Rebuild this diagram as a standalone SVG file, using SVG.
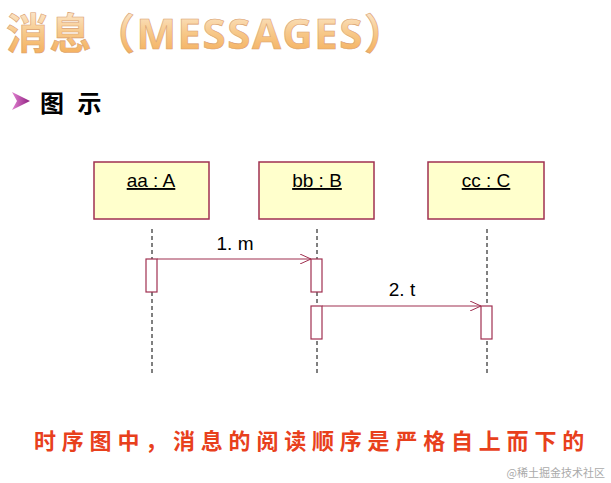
<svg xmlns="http://www.w3.org/2000/svg" width="611" height="483" viewBox="0 0 611 483">
<defs>
<linearGradient id="tg" x1="0" y1="0" x2="0" y2="1"><stop offset="0" stop-color="#fdf0e0"/><stop offset="0.5" stop-color="#f7c98a"/><stop offset="1" stop-color="#f4a850"/></linearGradient>
<linearGradient id="bg" x1="0" y1="0" x2="1" y2="0"><stop offset="0" stop-color="#e080d0"/><stop offset="1" stop-color="#902080"/></linearGradient>
<marker id="ah" markerWidth="12" markerHeight="10" refX="11" refY="5" orient="auto" markerUnits="userSpaceOnUse"><path d="M0,0 L11,5 L0,10" fill="none" stroke="#a03050" stroke-width="1"/></marker>
</defs>
<style>
.box{fill:#ffffcc;stroke:#a03050;stroke-width:1.5}
.act{fill:#fff;stroke:#a03050;stroke-width:1.2}
.life{stroke:#000;stroke-width:1;stroke-dasharray:4,3}
.lbl{font-family:"Liberation Sans",Arial,sans-serif;font-size:19px;fill:#000}
.msg{stroke:#a03050;stroke-width:1.2;fill:none}
</style>
<rect width="611" height="483" fill="#fff"/>
<text x="6" y="49" font-family="'Open Sans','Noto Sans CJK SC',sans-serif" font-weight="bold" font-size="42" letter-spacing="1.5" fill="url(#tg)" stroke="#d9a070" stroke-width="0.6">消息（MESSAGES）</text>
<polygon points="12,92 30,101 12,110 17,101" fill="url(#bg)"/>
<text x="40" y="112" font-family="'Noto Sans CJK SC',sans-serif" font-weight="bold" font-size="24" letter-spacing="4" fill="#000">图 示</text>
<g id="lifelines">
<line class="life" x1="152" y1="229" x2="152" y2="376"/>
<line class="life" x1="317" y1="229" x2="317" y2="376"/>
<line class="life" x1="487" y1="229" x2="487" y2="376"/>
</g>
<g id="aa"><rect class="box" x="94" y="162" width="115" height="57"/><text class="lbl" x="151" y="187" text-anchor="middle" text-decoration="underline">aa : A</text></g>
<g id="bb"><rect class="box" x="259" y="162" width="115" height="57"/><text class="lbl" x="317" y="187" text-anchor="middle" text-decoration="underline">bb : B</text></g>
<g id="cc"><rect class="box" x="428" y="162" width="116" height="57"/><text class="lbl" x="486" y="187" text-anchor="middle" text-decoration="underline">cc : C</text></g>
<g id="activations">
<rect class="act" x="146" y="259" width="11" height="33"/>
<rect class="act" x="311" y="259" width="11" height="33"/>
<rect class="act" x="311" y="306" width="11" height="33"/>
<rect class="act" x="481" y="306" width="11" height="33"/>
</g>
<g id="connectors">
<line class="msg" x1="157" y1="259" x2="311" y2="259" marker-end="url(#ah)"/>
<text class="lbl" x="235" y="250" text-anchor="middle">1. m</text>
<line class="msg" x1="322" y1="306" x2="481" y2="306" marker-end="url(#ah)"/>
<text class="lbl" x="402" y="296" text-anchor="middle">2. t</text>
</g>
<text x="34" y="449" font-family="'Noto Sans CJK SC',sans-serif" font-weight="bold" font-size="22" letter-spacing="5.8" fill="#e8401c">时序图中，消息的阅读顺序是严格自上而下的</text>
<text x="605" y="477" text-anchor="end" font-family="'Noto Sans CJK SC',sans-serif" font-size="11" fill="#aaa">@稀土掘金技术社区</text>
</svg>
